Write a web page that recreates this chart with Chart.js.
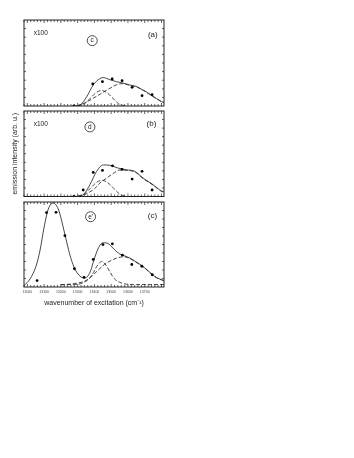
<!DOCTYPE html>
<html>
<head>
<meta charset="utf-8">
<script src="https://cdn.jsdelivr.net/npm/chart.js@4.4.1/dist/chart.umd.min.js"></script>
<style>
  body { margin: 0; background: #fff; }
  .p { position: absolute; left: 0; }
</style>
</head>
<body>
<div class="p" style="top:14px"><canvas id="ca" width="175" height="98"></canvas></div>
<div class="p" style="top:105px"><canvas id="cb" width="175" height="97"></canvas></div>
<div class="p" style="top:196px"><canvas id="cc" width="175" height="118"></canvas></div>
<script>
(function () {
  'use strict'

// wavenumber ticks along the bottom
var tickLabels = [13000, 13100, 13200, 13300, 13400, 13500, 13600, 13700]

// panel (a)  x100
var aPtsX = [13278, 13390, 13448, 13506, 13565, 13625, 13684, 13744]
var aPtsY = [0, 25.6, 28.3, 31.4, 29.4, 21.7, 12.0, 13.1]
var aSumX = [13270, 13314, 13354, 13393, 13429, 13452, 13492, 13532, 13570, 13611, 13651, 13671, 13711, 13731, 13770, 13800, 13814]
var aSumY = [0, 1.2, 10.8, 24.4, 31.4, 33.1, 30.6, 28.3, 26.7, 24.4, 22.7, 20.6, 16.3, 13.6, 8.7, 5, 4.1]
var aNarrowX = [13300, 13340, 13375, 13410, 13442, 13475, 13510, 13545, 13580]
var aNarrowY = [0.3, 2.5, 9, 15.5, 18, 15.5, 9, 2.5, 0.3]
var aBroadX = [13294, 13340, 13393, 13440, 13492, 13530, 13571, 13611, 13651, 13691, 13731, 13770, 13814]
var aBroadY = [0, 3.5, 9, 14.5, 20.6, 24.5, 26, 24, 22.2, 18.2, 13.3, 8.4, 3.9]

// panel (b)  x100
var bPtsX = [13278, 13333, 13393, 13448, 13508, 13565, 13625, 13684, 13744]
var bPtsY = [0, 7.6, 28.2, 30.5, 35.9, 31.7, 20.4, 29.4, 7.6]
var bSumX = [13284, 13333, 13373, 13413, 13452, 13492, 13542, 13592, 13641, 13690, 13750, 13800, 13814]
var bSumY = [0, 2.1, 13.8, 29.4, 36.9, 36.4, 33.2, 31.2, 29.4, 21.6, 13.8, 6.4, 5.5]
var bNarrowX = [13300, 13340, 13375, 13410, 13445, 13480, 13515, 13550, 13585]
var bNarrowY = [0.3, 3, 9.5, 16, 19, 16, 9.5, 3, 0.3]
var bBroadX = [13302, 13350, 13400, 13433, 13480, 13520, 13552, 13592, 13641, 13690, 13750, 13800, 13814]
var bBroadY = [0, 3, 9, 15.7, 22.5, 28, 31, 30.5, 28.8, 21, 13.3, 6, 5.2]

// panel (c)
var cPtsX = [13058, 13114, 13171, 13224, 13281, 13338, 13393, 13451, 13507, 13567, 13623, 13683, 13745]
var cPtsY = [7.6, 87.6, 87.9, 60.4, 21.5, 11.4, 32.4, 49.9, 50.8, 37.4, 26.5, 24.4, 14.4]
var cSumX = [12980, 13016, 13052, 13076, 13099, 13123, 13141, 13156, 13171, 13189, 13212, 13236, 13254, 13278, 13302, 13326, 13343, 13361, 13379, 13397, 13421, 13439, 13462, 13486, 13504, 13528, 13552, 13582, 13611, 13641, 13671, 13701, 13731, 13760, 13790, 13814]
var cSumY = [1.8, 9.4, 24.7, 43.5, 69.4, 90.6, 97.6, 98.8, 96.5, 89.4, 71.8, 51.8, 37.6, 23.5, 15.3, 11.2, 10.6, 12.9, 20, 31.8, 44.7, 50.6, 52.1, 50.6, 47.1, 42.4, 38.8, 36.5, 34.1, 30.6, 26.7, 22.4, 17.1, 12.4, 9.4, 7.6]
var cNarrowX = [13200, 13300, 13340, 13370, 13395, 13420, 13444, 13468, 13493, 13518, 13548, 13590, 13650, 13814]
var cNarrowY = [2.9, 3.2, 5.8, 10, 17.5, 26, 30, 26, 17.5, 10, 5.8, 3.3, 2.9, 2.9]
var cBroadX = [13200, 13280, 13343, 13380, 13423, 13460, 13502, 13540, 13575, 13611, 13641, 13671, 13701, 13731, 13760, 13790, 13814]
var cBroadY = [2.5, 4, 7, 12, 20, 26.5, 31.5, 34.5, 35.5, 33.5, 30, 26.2, 22, 16.8, 12.1, 9.1, 7.4]

var FONT = "'Liberation Sans', Arial, sans-serif"
var INK = '#222'

function xy(xs, ys) {
  return xs.map(function (v, i) { return { x: v, y: ys[i] } })
}

// box, inward ticks and the little labels in each panel
var frame = {
  id: 'frame',
  afterDatasetsDraw: function (chart, args, opts) {
    var ctx = chart.ctx, a = chart.chartArea
    var x = chart.scales.x, y = chart.scales.y
    ctx.save()
    ctx.strokeStyle = INK
    ctx.lineWidth = 1
    ctx.strokeRect(a.left, a.top, a.right - a.left, a.bottom - a.top)
    ctx.lineWidth = 0.7
    ctx.beginPath()
    for (var v = Math.ceil(x.min / 20) * 20; v <= x.max; v += 20) {
      var px = x.getPixelForValue(v)
      var len = v % 100 === 0 ? 3 : 2
      ctx.moveTo(px, a.bottom); ctx.lineTo(px, a.bottom - len)
      ctx.moveTo(px, a.top); ctx.lineTo(px, a.top + len)
    }
    for (var w = 10; w < y.max; w += 10) {
      var py = y.getPixelForValue(w)
      ctx.moveTo(a.left, py); ctx.lineTo(a.left + 2, py)
      ctx.moveTo(a.right, py); ctx.lineTo(a.right - 2, py)
    }
    ctx.stroke()

    ctx.fillStyle = INK
    ctx.textAlign = 'center'
    ctx.textBaseline = 'middle';
    (opts.notes || []).forEach(function (n) {
      var nx = x.getPixelForValue(n.x), ny = y.getPixelForValue(n.y)
      ctx.font = n.size + 'px ' + FONT
      ctx.fillText(n.text, nx, ny)
      if (n.ring) {
        ctx.lineWidth = 0.8
        ctx.beginPath()
        ctx.arc(nx, ny, 5, 0, Math.PI * 2)
        ctx.stroke()
      }
    })
    ctx.restore()
  }
}

function sets(pts, sum, narrow, broad) {
  var line = { type: 'line', showLine: true, pointRadius: 0, borderColor: '#333', borderWidth: 0.9, fill: false, cubicInterpolationMode: 'monotone' }
  return [
    { type: 'scatter', data: pts, pointRadius: 1.4, pointBackgroundColor: '#000', pointBorderWidth: 0 },
    Object.assign({ data: sum }, line),
    Object.assign({ data: narrow, borderDash: [4, 2] }, line),
    Object.assign({ data: broad, borderDash: [4, 2] }, line)
  ]
}

function panel(id, datasets, notes, pad, xAxis, yAxis) {
  new Chart(document.getElementById(id), {
    type: 'scatter',
    data: { datasets: datasets },
    options: {
      responsive: false,
      animation: false,
      layout: { padding: pad },
      plugins: { legend: { display: false }, tooltip: { enabled: false }, frame: { notes: notes } },
      scales: {
        x: Object.assign({ type: 'linear', min: 12980, max: 13815, display: false }, xAxis || {}),
        y: Object.assign({ type: 'linear', min: 0, max: 100, display: false }, yAxis || {})
      }
    },
    plugins: [frame]
  })
}

panel('ca', sets(xy(aPtsX, aPtsY), xy(aSumX, aSumY), xy(aNarrowX, aNarrowY), xy(aBroadX, aBroadY)), [
  { text: 'x100', x: 13080, y: 85, size: 6.5 },
  { text: 'c', x: 13387, y: 76, size: 6.5, ring: true },
  { text: '(a)', x: 13748, y: 83, size: 8 }
], { top: 6, bottom: 6, left: 24, right: 11 })

panel('cb', sets(xy(bPtsX, bPtsY), xy(bSumX, bSumY), xy(bNarrowX, bNarrowY), xy(bBroadX, bBroadY)), [
  { text: 'x100', x: 13080, y: 84.5, size: 6.5 },
  { text: 'd', x: 13373, y: 81.4, size: 6.5, ring: true },
  { text: '(b)', x: 13740, y: 84.5, size: 8 }
], { top: 6, bottom: 5.5, left: 11.3, right: 11 }, null, {
  display: true,
  grid: { display: false, drawTicks: false },
  border: { display: false },
  ticks: { display: false },
  title: { display: true, text: 'emission intensity (arb. u.)', color: INK, padding: 0, font: { family: FONT, size: 7 } },
  afterFit: function (s) { s.width = 12.7 }
})

panel('cc', sets(xy(cPtsX, cPtsY), xy(cSumX, cSumY), xy(cNarrowX, cNarrowY), xy(cBroadX, cBroadY)), [
  { text: "e'", x: 13377, y: 82.7, size: 6.5, ring: true },
  { text: '(c)', x: 13746, y: 83.5, size: 8 }
], { top: 6, bottom: 6.8, left: 24, right: 11 }, {
  display: true,
  grid: { display: false, drawTicks: false },
  border: { display: false },
  afterBuildTicks: function (s) { s.ticks = tickLabels.map(function (v) { return { value: v } }) },
  ticks: { autoSkip: false, maxRotation: 0, padding: 3, color: '#444', font: { family: FONT, size: 3.5 }, callback: function (v) { return String(v) } },
  title: { display: true, text: 'wavenumber of excitation (cm\u207B\u00B9)', color: INK, padding: 0, font: { family: FONT, size: 7 } },
  afterFit: function (s) { s.height = 20.2 }
})

})()
</script>
</body>
</html>
